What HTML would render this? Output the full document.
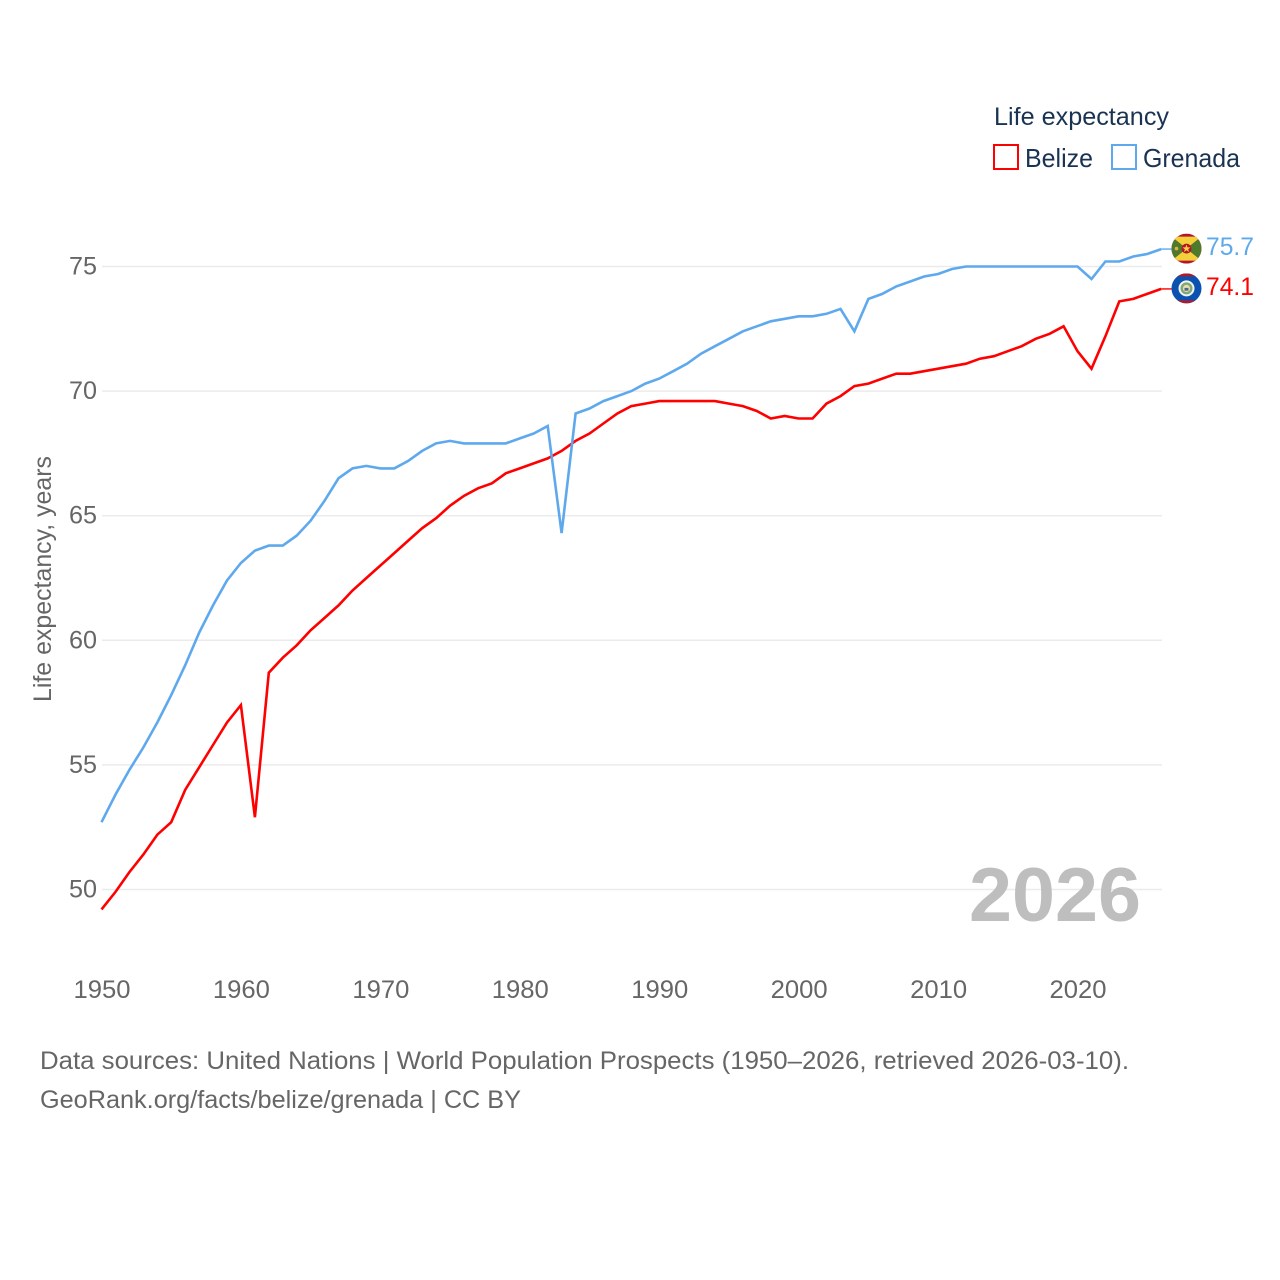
<!DOCTYPE html>
<html lang="en">
<head>
<meta charset="utf-8">
<title>Life expectancy: Belize and Grenada</title>
<style>
html,body{margin:0;padding:0;background:#fff;}
svg{display:block;font-family:"Liberation Sans",sans-serif;}
</style>
</head>
<body>
<svg id="chart" xmlns="http://www.w3.org/2000/svg" width="1280" height="1280" viewBox="0 0 1280 1280">
  <rect width="1280" height="1280" fill="#fff"/>
  <g id="grid"></g>
  <g id="yticks"></g>
  <g id="xticks"></g>
  <text transform="translate(51,702) rotate(-90)" font-size="25" fill="#666" textLength="246" lengthAdjust="spacingAndGlyphs">Life expectancy, years</text>
  <text x="969" y="921" font-size="76" font-weight="bold" fill="#bebebe" textLength="172" lengthAdjust="spacingAndGlyphs">2026</text>
  <g id="series"></g>

  <g id="flag-grenada">
    <clipPath id="clip-gd"><circle r="15"/></clipPath>
    <g clip-path="url(#clip-gd)">
      <rect x="-15" y="-15" width="30" height="30" fill="#b5152b"/>
      <polygon points="-15,-12 15,-12 0,0" fill="#f4d03a"/>
      <polygon points="-15,12 15,12 0,0" fill="#f4d03a"/>
      <polygon points="-15,-12 0,0 -15,12" fill="#4f7a2c"/>
      <polygon points="15,-12 0,0 15,12" fill="#4f7a2c"/>
      <circle r="5" fill="#b5152b"/>
      <polygon points="0,-4 1.1,-1.2 4,-1.2 1.7,0.6 2.5,3.4 0,1.7 -2.5,3.4 -1.7,0.6 -4,-1.2 -1.1,-1.2" fill="#f4d03a"/>
      <circle cx="-10" cy="0" r="1.8" fill="#e3b23c"/>
    </g>
  </g>
  <g id="flag-belize">
    <clipPath id="clip-bz"><circle r="15"/></clipPath>
    <g clip-path="url(#clip-bz)">
      <rect x="-15" y="-15" width="30" height="30" fill="#0b52b0"/>
      <rect x="-15" y="-15" width="30" height="3" fill="#ad1c2c"/>
      <rect x="-15" y="12" width="30" height="3" fill="#ad1c2c"/>
      <circle r="8" fill="#f2f2ee"/>
      <circle r="6" fill="#7da77e"/>
      <circle r="3.6" fill="#e9dfa8"/>
      <rect x="-2" y="-0.5" width="4" height="2.8" fill="#4d6a8c"/>
    </g>
  </g>
  <g id="endlabels"></g>

  <g>
    <text x="994" y="125" font-size="25" fill="#1a3353" textLength="175" lengthAdjust="spacingAndGlyphs">Life expectancy</text>
    <g>
      <rect x="994" y="145" width="24" height="24" fill="#fff" stroke="#ff0000" stroke-width="2"/>
      <text x="1025" y="167" font-size="26" fill="#1a3353" textLength="68" lengthAdjust="spacingAndGlyphs">Belize</text>
    </g>
    <g>
      <rect x="1112" y="145" width="24" height="24" fill="#fff" stroke="#5ea9ee" stroke-width="2"/>
      <text x="1143" y="167" font-size="26" fill="#1a3353" textLength="97" lengthAdjust="spacingAndGlyphs">Grenada</text>
    </g>
  </g>

  <text x="40" y="1069" font-size="25" fill="#666" textLength="1089" lengthAdjust="spacingAndGlyphs">Data sources: United Nations | World Population Prospects (1950–2026, retrieved 2026-03-10).</text>
  <text x="40" y="1108" font-size="25" fill="#666" textLength="481" lengthAdjust="spacingAndGlyphs">GeoRank.org/facts/belize/grenada | CC BY</text>
</svg>
<script>
const startYear = 1950;
const belizeValues = [49.2,49.9,50.7,51.4,52.2,52.7,54.0,54.9,55.8,56.7,57.4,52.9,58.7,59.3,59.8,60.4,60.9,61.4,62.0,62.5,63.0,63.5,64.0,64.5,64.9,65.4,65.8,66.1,66.3,66.7,66.9,67.1,67.3,67.6,68.0,68.3,68.7,69.1,69.4,69.5,69.6,69.6,69.6,69.6,69.6,69.5,69.4,69.2,68.9,69.0,68.9,68.9,69.5,69.8,70.2,70.3,70.5,70.7,70.7,70.8,70.9,71.0,71.1,71.3,71.4,71.6,71.8,72.1,72.3,72.6,71.6,70.9,72.2,73.6,73.7,73.9,74.1];
const grenadaValues = [52.7,53.8,54.8,55.7,56.7,57.8,59.0,60.3,61.4,62.4,63.1,63.6,63.8,63.8,64.2,64.8,65.6,66.5,66.9,67.0,66.9,66.9,67.2,67.6,67.9,68.0,67.9,67.9,67.9,67.9,68.1,68.3,68.6,64.3,69.1,69.3,69.6,69.8,70.0,70.3,70.5,70.8,71.1,71.5,71.8,72.1,72.4,72.6,72.8,72.9,73.0,73.0,73.1,73.3,72.4,73.7,73.9,74.2,74.4,74.6,74.7,74.9,75.0,75.0,75.0,75.0,75.0,75.0,75.0,75.0,75.0,74.5,75.2,75.2,75.4,75.5,75.7];
const xTickLabels = [1950,1960,1970,1980,1990,2000,2010,2020];
const yTickLabels = [50,55,60,65,70,75];

const NS = 'http://www.w3.org/2000/svg';
function xScale(year){ return 101.5 + (year - 1950) * 13.943; }
function yScale(value){ return 889.5 - (value - 50) * 24.92; }
function make(tag, parent, attrs){
  const el = document.createElementNS(NS, tag);
  for (const k in attrs) el.setAttribute(k, attrs[k]);
  parent.appendChild(el);
  return el;
}
const svgGrid = document.getElementById('grid');
const svgY = document.getElementById('yticks');
const svgX = document.getElementById('xticks');
const svgSeries = document.getElementById('series');
const svgEnd = document.getElementById('endlabels');

yTickLabels.forEach(function(v){
  const line = make('line', svgGrid, {x1:102, x2:1162, y1:yScale(v), y2:yScale(v), stroke:'#ebebeb', 'stroke-width':1.5});
  
  
  const t = make('text', svgY, {x:97, y:yScale(v)+8, 'text-anchor':'end', 'font-size':25, fill:'#666', textLength:28, lengthAdjust:'spacingAndGlyphs'});
  t.textContent = v;
  
  
});

xTickLabels.forEach(function(y){
  const t = make('text', svgX, {x:xScale(y)+0.5, y:998, 'text-anchor':'middle', 'font-size':25, fill:'#666', textLength:57, lengthAdjust:'spacingAndGlyphs'});
  t.textContent = y;
  
  
});

function drawSeries(name, values, color, flagId){
  const pts = values.map(function(v, i){ return xScale(startYear + i).toFixed(1) + ',' + yScale(v).toFixed(1); }).join(' ');
  const line = make('polyline', svgSeries, {points:pts, fill:'none', stroke:color, 'stroke-width':2.6, 'stroke-linejoin':'miter'});
  
  
  const last = values[values.length - 1];
  const lastX = xScale(startYear + values.length - 1);
  const lastY = yScale(last);
  const conn = make('line', svgSeries, {x1:lastX, x2:1173, y1:lastY, y2:lastY, stroke:color, 'stroke-width':1.4});
  
  
  document.getElementById(flagId).setAttribute('transform', 'translate(1186.5,' + (lastY - 0.5).toFixed(1) + ')');
  const t = make('text', svgEnd, {x:1206, y:lastY + 6, 'font-size':25, fill:color, textLength:48, lengthAdjust:'spacingAndGlyphs'});
  t.textContent = last.toFixed(1);
  
  
}
drawSeries('belize', belizeValues, '#ff0000', 'flag-belize');
drawSeries('grenada', grenadaValues, '#5ea9ee', 'flag-grenada');
</script>
</body>
</html>
